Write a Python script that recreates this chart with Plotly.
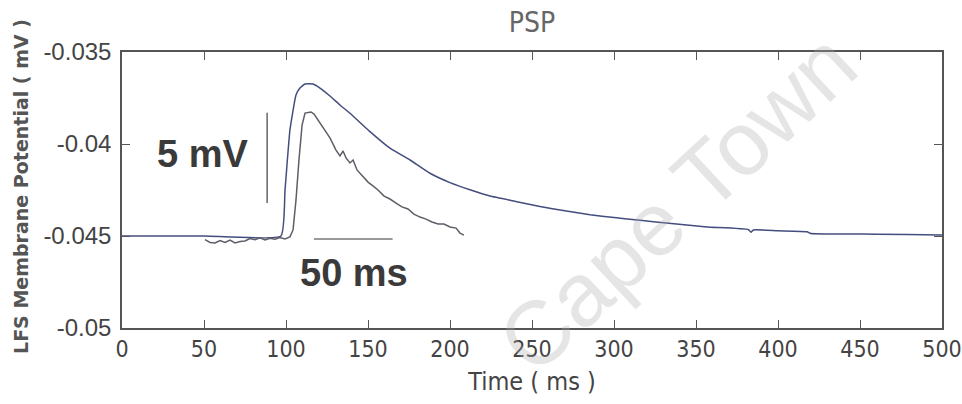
import plotly.graph_objects as go

# ---- data ----
model_t = [0, 50, 96.9, 99.4, 102.4, 106.1, 108.5, 111.6, 116.5, 120.7, 126.8, 132.9,
           139.0, 151.2, 163.4, 175.6, 187.8, 200.0, 212.2, 224.4, 240.0, 254.9, 270.0,
           285.4, 300.0, 315.9, 335.0, 356.7, 382.0, 383.5, 385.0, 400.0, 417.7, 420.0,
           460.0, 498.8, 500.0]
model_v = [-0.0450, -0.0450, -0.0450, -0.04250, -0.03924, -0.03734, -0.03696, -0.03674,
           -0.03674, -0.03696, -0.03739, -0.03788, -0.03833, -0.03933, -0.04023, -0.04087,
           -0.04159, -0.04210, -0.04249, -0.04283, -0.04312, -0.04340, -0.04363, -0.04384,
           -0.04400, -0.04415, -0.04432, -0.04451, -0.04465, -0.04480, -0.04467, -0.04472,
           -0.04477, -0.04486, -0.04490, -0.04495, -0.04495]

exp_t = [50.6, 53.7, 56.7, 59.8, 62.8, 65.9, 68.9, 72.0, 75.0, 78.0, 81.1, 84.1, 87.2,
         90.2, 93.3, 96.3, 99.4, 102.4, 104.3, 106.1, 107.9, 109.8, 111.6, 115.2, 117.1,
         119.5, 123.2, 126.8, 130.5, 132.9, 134.8, 136.6, 139.0, 140.9, 143.3, 146.3,
         150.0, 153.0, 156.1, 159.8, 163.4, 167.1, 170.7, 174.4, 178.0, 181.7, 185.4,
         189.0, 192.7, 196.3, 200.0, 203.7, 206.1, 208.5]
exp_v = [-0.04520, -0.04535, -0.04538, -0.04525, -0.04535, -0.04522, -0.04538, -0.04530,
         -0.04527, -0.04514, -0.04520, -0.04510, -0.04522, -0.04512, -0.04518, -0.04508,
         -0.04516, -0.04505, -0.04467, -0.04304, -0.04087, -0.03897, -0.03832, -0.03826,
         -0.03837, -0.03870, -0.03924, -0.03967, -0.04033, -0.04065, -0.04038, -0.04076,
         -0.04103, -0.04087, -0.04141, -0.04169, -0.04207, -0.04228, -0.04250, -0.04283,
         -0.04299, -0.04321, -0.04342, -0.04353, -0.04381, -0.04397, -0.04408, -0.04424,
         -0.04435, -0.04435, -0.04451, -0.04457, -0.04484, -0.04495]

# scale bars
vbar_t = [88.5, 88.5]
vbar_v = [-0.0383, -0.0432]
hbar_t = [117, 165]
hbar_v = [-0.04516, -0.04516]

x_ticks = [0, 50, 100, 150, 200, 250, 300, 350, 400, 450, 500]
y_ticks = [-0.05, -0.045, -0.04, -0.035]
y_tick_text = ["-0.05", "-0.045", "-0.04", "-0.035"]

NARROW = "Liberation Sans Narrow, Arial Narrow, DejaVu Sans Condensed, sans-serif"
SANS = "Liberation Sans, Arial, sans-serif"

fig = go.Figure()
fig.add_trace(go.Scatter(x=model_t, y=model_v, mode="lines", line_shape="spline",
                         line=dict(color="#444d7e", width=1.5, smoothing=0.4),
                         showlegend=False))
fig.add_trace(go.Scatter(x=exp_t, y=exp_v, mode="lines",
                         line=dict(color="#5c5e68", width=1.5), showlegend=False))
fig.add_trace(go.Scatter(x=vbar_t, y=vbar_v, mode="lines",
                         line=dict(color="#666666", width=1.5), showlegend=False))
fig.add_trace(go.Scatter(x=hbar_t, y=hbar_v, mode="lines",
                         line=dict(color="#777777", width=1.5), showlegend=False))

fig.update_layout(
    width=962, height=404,
    margin=dict(l=122, r=20, t=52, b=76),
    paper_bgcolor="white", plot_bgcolor="white",
    title=dict(text="PSP", x=0.5, xref="paper", y=1 - 22 / 404, yref="container",
               xanchor="center", yanchor="middle",
               font=dict(family=NARROW, size=28, color="#666666")),
    xaxis=dict(range=[0, 500], tickvals=x_ticks, ticks="inside", ticklen=8,
               tickcolor="#555555", mirror="ticks", showline=True, linecolor="#555555",
               linewidth=1.5, showgrid=False, zeroline=False, ticklabeloverflow="allow",
               automargin=False,
               tickfont=dict(family=NARROW, size=23, color="#444444"),
               title=dict(text="Time ( ms )", standoff=11,
                          font=dict(family=NARROW, size=25, color="#444444"))),
    yaxis=dict(range=[-0.05, -0.035], tickvals=y_ticks, ticktext=y_tick_text,
               ticks="inside", ticklen=8, tickcolor="#555555", mirror="ticks",
               showline=True, linecolor="#555555", linewidth=1.5, showgrid=False,
               zeroline=False, ticklabelstandoff=4, automargin=False,
               tickfont=dict(family=SANS, size=24, color="#444444")),
    annotations=[
        dict(text="LFS Membrane Potential ( mV )", xref="paper", yref="paper",
             x=-0.1232, y=0.5145, xanchor="center", yanchor="middle", textangle=-90,
             showarrow=False,
             font=dict(family="DejaVu Sans, sans-serif", size=19, color="#555555",
                       weight="bold")),
        dict(text="<b>5 mV</b>", x=48.8, y=-0.04054, xref="x", yref="y",
             xanchor="center", yanchor="middle", showarrow=False,
             font=dict(family=SANS, size=38, color="#3a3a3a")),
        dict(text="<b>50 ms</b>", x=141.5, y=-0.04701, xref="x", yref="y",
             xanchor="center", yanchor="middle", showarrow=False,
             font=dict(family=SANS, size=38, color="#3a3a3a")),
        dict(text="Cape Town", xref="paper", yref="paper", x=0.678, y=0.455,
             xanchor="center", yanchor="middle", textangle=-43, showarrow=False,
             font=dict(family=SANS, size=90, color="rgba(170,170,170,0.3)")),
    ],
)

fig.write_html("out.html")
